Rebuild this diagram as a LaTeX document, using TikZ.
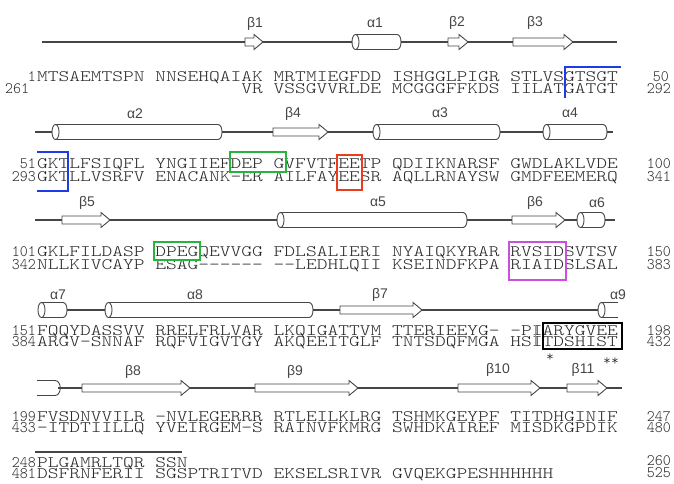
\documentclass[tikz,border=0pt]{standalone}
\usepackage{fontspec}
\usepackage{graphicx}
\newfontfamily\seqf{lmmonolt10-regular.otf}
\newfontfamily\labf{Liberation Sans}
\definecolor{bxblue}{RGB}{30,60,230}
\definecolor{bxgreen}{RGB}{40,180,60}
\definecolor{bxred}{RGB}{235,60,30}
\definecolor{bxpurple}{RGB}{200,80,220}
\definecolor{txt}{RGB}{40,40,40}
\definecolor{ssgray}{RGB}{70,70,70}
\newcommand\SQ[1]{\scalebox{1.28}[1]{\seqf\fontsize{16}{16}\selectfont #1}}
\newcommand\NM[1]{\scalebox{0.95}[1]{\seqf\fontsize{16}{16}\selectfont #1}}
\tikzset{
 seq/.style={anchor=base west, inner sep=0pt, text=txt},
 lnum/.style={anchor=base east, inner sep=0pt, text=txt},
 rnum/.style={anchor=base east, inner sep=0pt, text=txt},
 sslab/.style={inner sep=0pt, text=ssgray, font=\labf\fontsize{14}{14}\selectfont},
 ssline/.style={draw=ssgray, line width=1.1pt},
 ssshape/.style={draw=ssgray, line width=0.9pt, fill=white},
 hibox/.style={line width=1.2pt},
 star/.style={inner sep=0pt, text=txt, font=\seqf\fontsize{15}{15}\selectfont},
}
\newcommand\strand[3]{%
 \draw[ssshape] (#1,#3-4) -- (#2-9,#3-4) -- (#2-9,#3-7.5) -- (#2,#3) -- (#2-9,#3+7.5) -- (#2-9,#3+4) -- (#1,#3+4) -- cycle;}
\newcommand\helix[3]{%
 \draw[ssshape] (#1+3.5,#3-7.5) -- (#2-4,#3-7.5) .. controls (#2+1.33,#3-7.5) and (#2+1.33,#3+7.5) .. (#2-4,#3+7.5) -- (#1+3.5,#3+7.5) -- cycle;
 \draw[ssshape] (#1+3.5,#3) ellipse[x radius=3.5,y radius=7.5];}
\begin{document}
\begin{tikzpicture}[x=1pt,y=-1pt]
\useasboundingbox (0,0) rectangle (674,484);
\fill[white] (0,0) rectangle (674,484);

% ---------- Row 1 ----------
\draw[ssline] (42,42) -- (617,42);
\strand{245}{263}{42}
\helix{352}{401}{42}
\strand{448}{468}{42}
\strand{513}{573}{42}
\node[sslab] (lb1) at (255,24) {β1};
\node[sslab] (la1) at (375,23) {α1};
\node[sslab] (lb2) at (457,23) {β2};
\node[sslab] (lb3) at (535,23) {β3};
\node[lnum] (n1) at (36,81.5) {\NM{1}};
\node[seq] (s1a) at (37,81.5) {\SQ{MTSAEMTSPN NNSEHQAIAK MRTMIEGFDD ISHGGLPIGR STLVSGTSGT}};
\node[anchor=base west,inner sep=0pt,text=txt] (n261) at (5,94) {\NM{261}};
\node[seq] (s1b) at (37,94) {\SQ{~~~~~~~~~~~~~~~~~~~VR VSSGVVRLDE MCGGGFFKDS IILATGATGT}};
\node[rnum] (r50) at (669,81.5) {\NM{50}};
\node[rnum] (r292) at (671,94) {\NM{292}};
\draw[bxblue,hibox] (565,98) -- (565,67) -- (621,67);

% ---------- Row 2 ----------
\draw[ssline] (35,132) -- (613,132);
\helix{52}{222}{132}
\strand{273}{328}{132}
\helix{373}{500}{132}
\helix{543}{607}{132}
\node[sslab] (la2) at (135,114) {α2};
\node[sslab] (lb4) at (293,114) {β4};
\node[sslab] (la3) at (440,113) {α3};
\node[sslab] (la4) at (570,113) {α4};
\node[lnum] (n51) at (36,168) {\NM{51}};
\node[seq] (s2a) at (37,168) {\SQ{GKTLFSIQFL YNGIIEFDEP GVFVTFEETP QDIIKNARSF GWDLAKLVDE}};
\node[lnum] (n293) at (36,181) {\NM{293}};
\node[seq] (s2b) at (37,181) {\SQ{GKTLLVSRFV ENACANK-ER AILFAYEESR AQLLRNAYSW GMDFEEMERQ}};
\node[rnum] (r100) at (671,168) {\NM{100}};
\node[rnum] (r341) at (671,181) {\NM{341}};
\draw[bxblue,hibox] (37,152) -- (68,152) -- (68,191) -- (37,191);
\draw[bxgreen,hibox] (230,152) rectangle (286,172);
\draw[bxred,hibox] (337,155) rectangle (362,190);

% ---------- Row 3 ----------
\draw[ssline] (35,220) -- (615,220);
\strand{62}{110}{220}
\helix{277}{467}{220}
\strand{512}{565}{220}
\helix{577}{605}{220}
\node[sslab] (lb5) at (87,203) {β5};
\node[sslab] (la5) at (378,202) {α5};
\node[sslab] (lb6) at (535,203) {β6};
\node[sslab] (la6) at (597,203) {α6};
\node[lnum] (n101) at (36,256) {\NM{101}};
\node[seq] (s3a) at (37,256) {\SQ{GKLFILDASP DPEGQEVVGG FDLSALIERI NYAIQKYRAR RVSIDSVTSV}};
\node[lnum] (n342) at (36,269) {\NM{342}};
\node[seq] (s3b) at (37,269) {\SQ{NLLKIVCAYP ESAG------ --LEDHLQII KSEINDFKPA RIAIDSLSAL}};
\node[rnum] (r150) at (671,256) {\NM{150}};
\node[rnum] (r383) at (671,269) {\NM{383}};
\draw[bxgreen,hibox] (154,242) rectangle (200,260);
\draw[bxpurple,hibox] (509,242) rectangle (566,280);

% ---------- Row 4 ----------
\draw[ssline] (67,310) -- (600,310);
\helix{38}{67}{310}
\helix{105}{313}{310}
\strand{340}{422}{310}
\fill[white] (601.5,302.5) rectangle (618,317.5);
\draw[ssshape,fill=none] (618,302.5) -- (601.5,302.5) (601.5,317.5) -- (618,317.5);
\draw[ssshape] (601.5,310) ellipse[x radius=3.5,y radius=7.5];
\node[sslab] (la7) at (58,295) {α7};
\node[sslab] (la8) at (195,295) {α8};
\node[sslab] (lb7) at (380,295) {β7};
\node[sslab] (la9) at (618,295) {α9};
\node[lnum] (n151) at (36,335) {\NM{151}};
\node[seq] (s4a) at (37,335) {\SQ{FQQYDASSVV RRELFRLVAR LKQIGATTVM TTERIEEYG- -PIARYGVEE}};
\node[lnum] (n384) at (36,346.5) {\NM{384}};
\node[seq] (s4b) at (37,346.5) {\SQ{ARGV-SNNAF RQFVIGVTGY AKQEEITGLF TNTSDQFMGA HSITDSHIST}};
\node[rnum] (r198) at (671,335) {\NM{198}};
\node[rnum] (r432) at (671,346.5) {\NM{432}};
\draw[black!40,line width=0.5pt] (535,325) -- (535,345);
\draw[black,line width=1.6pt] (543,323) rectangle (622,349);
\node[star] (st1) at (550,358) {*};
\node[star] (st2) at (607,362) {*};
\node[star] (st3) at (615,362) {*};

% ---------- Row 5 ----------
\draw[ssline] (58,388) -- (622,388);
\fill[white] (37,380.5) rectangle (57,395.5);
\draw[ssshape,fill=none] (37,380.5) -- (55,380.5) .. controls (62,380.5) and (62,395.5) .. (55,395.5) -- (37,395.5);
\strand{82}{190}{388}
\strand{255}{358}{388}
\strand{458}{540}{388}
\strand{567}{607}{388}
\node[sslab] (lb8) at (133,372) {β8};
\node[sslab] (lb9) at (295,372) {β9};
\node[sslab] (lb10) at (498,370) {β10};
\node[sslab] (lb11) at (583,370) {β11};
\node[lnum] (n199) at (36,421) {\NM{199}};
\node[seq] (s5a) at (37,421) {\SQ{FVSDNVVILR -NVLEGERRR RTLEILKLRG TSHMKGEYPF TITDHGINIF}};
\node[lnum] (n433) at (36,432.5) {\NM{433}};
\node[seq] (s5b) at (37,432.5) {\SQ{-ITDTIILLQ YVEIRGEM-S RAINVFKMRG SWHDKAIREF MISDKGPDIK}};
\node[rnum] (r247) at (671,421) {\NM{247}};
\node[rnum] (r480) at (671,432.5) {\NM{480}};

% ---------- Row 6 ----------
\draw[ssline] (35,452) -- (182,452);
\node[lnum] (n248) at (36,467) {\NM{248}};
\node[seq] (s6a) at (37,467) {\SQ{PLGAMRLTQR SSN}};
\node[lnum] (n481) at (36,478.5) {\NM{481}};
\node[seq] (s6b) at (37,478.5) {\SQ{DSFRNFERII SGSPTRITVD EKSELSRIVR GVQEKGPESHHHHHH}};
\node[rnum] (r260) at (671,465) {\NM{260}};
\node[rnum] (r525) at (671,477) {\NM{525}};
\end{tikzpicture}
\end{document}
